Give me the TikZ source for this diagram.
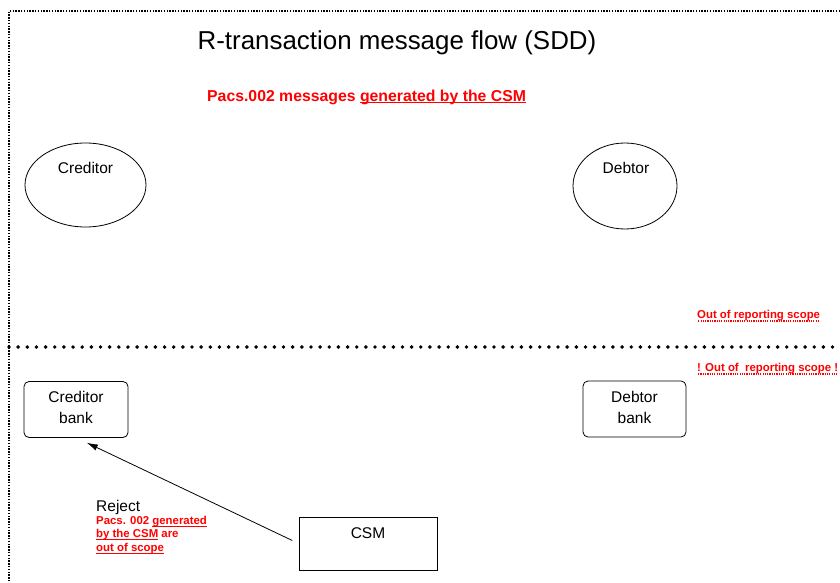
\documentclass[tikz,border=0pt]{standalone}
\usepackage{fontspec}
\setmainfont{Liberation Sans}
\usetikzlibrary{shapes.geometric,arrows.meta}
\definecolor{redtxt}{RGB}{255,0,0}
\newsavebox{\mybox}
\newcommand{\myul}[1]{\sbox{\mybox}{#1}\rlap{\rule[-2.3pt]{\wd\mybox}{0.9pt}}\usebox{\mybox}}
\newcommand{\mydotul}[1]{\sbox{\mybox}{#1}\rlap{\raisebox{-3pt}{\hbox to \wd\mybox{\cleaders\hbox to 2.3pt{\hss\rule{1.2pt}{1.2pt}\hss}\hfill}}}\usebox{\mybox}}
\tikzset{
  border/.style={line width=1.6pt, dash pattern=on 1.4pt off 1.4pt},
  divider/.style={line width=3.9pt, line cap=round, dash pattern=on 0pt off 9.15pt},
  party/.style={draw, ellipse, line width=0.8pt},
  bankbox/.style={draw, rounded corners=5pt, line width=0.8pt},
  csmbox/.style={draw, line width=0.8pt},
  lbl/.style={font=\fontsize{15.5}{21}\selectfont, align=center, inner sep=0pt},
  redsmall/.style={text=redtxt, font=\bfseries\fontsize{11.4}{13.5}\selectfont, align=left, anchor=west, inner sep=0pt},
  flow/.style={-{Latex[length=11pt,width=6.5pt]}, line width=0.8pt},
}
\begin{document}
\begin{tikzpicture}[x=1pt,y=-1pt]
\useasboundingbox (0,0) rectangle (840,583);
% borders
\coordinate (tl) at (9,11);
\coordinate (tr) at (840,11);
\coordinate (bl) at (9,583);
\coordinate (ml) at (9,347);
\coordinate (mr) at (840,347);
\draw[border] (tr) -- (tl) -- (bl);
\draw[divider] (ml) -- (mr);
% title
\node[font=\fontsize{25.9}{30}\selectfont, inner sep=0pt] (title) at (397,43) {R-transaction message flow (SDD)};
\node[text=redtxt, font=\bfseries\fontsize{15.8}{19}\selectfont, anchor=west, inner sep=0pt] (head) at (207,97) {Pacs.002 messages \myul{generated by the CSM}};
% parties
\node[party, minimum width=121pt, minimum height=84pt] (cred) at (85.5,185) {};
\node[lbl] (credt) at (85.5,168) {Creditor};
\node[party, minimum width=104pt, minimum height=86pt] (debt) at (625,186) {};
\node[lbl] (debtt) at (626,168) {Debtor};
% scope notes
\node[redsmall] (scope1) at (697,316) {\mydotul{Out of reporting scope}};
\node[redsmall] (scope2) at (697,369) {\mydotul{! Out of \ reporting scope !}};
% banks
\node[bankbox, minimum width=104pt, minimum height=56pt] (cb) at (76,409.5) {};
\node[lbl] (cbt) at (76,407.5) {Creditor\\bank};
\node[bankbox, minimum width=103pt, minimum height=56pt] (db) at (634.5,409) {};
\node[lbl] (dbt) at (634.5,407.5) {Debtor\\bank};
% CSM
\node[csmbox, minimum width=138pt, minimum height=53pt] (csm) at (368,543.5) {};
\node[lbl] (csmt) at (368,533) {CSM};
% reject
\node[lbl, anchor=west] (rej) at (96,507) {Reject};
\node[redsmall, anchor=north west] (rejnote) at (96,516) {Pacs. 002 \myul{generated}\\\myul{by the CSM} are\\\myul{out of scope}};
% arrow
\draw[flow, shorten <=7pt, shorten >=2pt] (csm.west) -- ([xshift=9pt,yshift=-4pt]cb.south);
\end{tikzpicture}
\end{document}
